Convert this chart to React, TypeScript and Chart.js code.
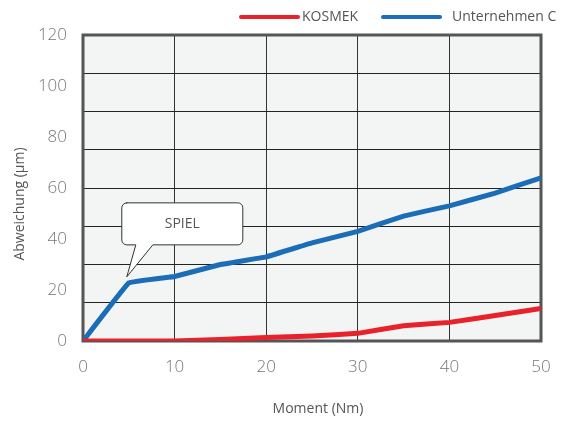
import React, { useEffect, useRef } from "react";
import { Chart, registerables } from "chart.js";

Chart.register(...registerables);

const moments = [0, 5, 10, 15, 20, 25, 30, 35, 40, 45, 50];
const kosmek = [0, 0, 0, 0.6, 1.4, 2, 3, 6, 7.3, 10, 12.8];
const companyC = [0, 22.8, 25.3, 30, 33, 38.5, 43, 49, 53, 58, 64];
const seriesNames = ["KOSMEK", "Unternehmen C"];
const seriesColors = ["#e8212b", "#1a6db6"];
const xTicks = [0, 10, 20, 30, 40, 50];
const yLabelStep = 20;
const yGridStep = 15;
const xTitle = "Moment (Nm)";
const yTitle = "Abweichung (µm)";
const calloutText = "SPIEL";
const calloutIndex = 1;

const FONT = "'Open Sans', 'Noto Sans', sans-serif";

const decorPlugin = {
  id: "decor",
  beforeDraw(chart: any) {
    const { ctx, chartArea: a } = chart;
    ctx.save();
    ctx.fillStyle = "#f3f4f4";
    ctx.fillRect(a.left, a.top, a.right - a.left, a.bottom - a.top);
    ctx.restore();
  },
  beforeDatasetsDraw(chart: any) {
    const { ctx, chartArea: a } = chart;
    ctx.save();
    ctx.strokeStyle = "#555";
    ctx.lineWidth = 3;
    ctx.strokeRect(a.left, a.top, a.right - a.left, a.bottom - a.top);
    ctx.restore();
  },
  afterDraw(chart: any) {
    const { ctx, scales } = chart;
    ctx.save();
    ctx.fillStyle = "#555";
    ctx.font = `14px ${FONT}`;
    ctx.textAlign = "center";
    ctx.textBaseline = "middle";
    ctx.fillText(xTitle, 318, 409);
    ctx.save();
    ctx.translate(20, 204);
    ctx.rotate(-Math.PI / 2);
    ctx.fillText(yTitle, 0, 0);
    ctx.restore();

    const ds = chart.data.datasets;
    const items = [
      { x1: 241, x2: 298, tx: 302 },
      { x1: 383, x2: 440, tx: 452 },
    ];
    ds.forEach((d: any, i: number) => {
      const it = items[i];
      ctx.strokeStyle = d.borderColor;
      ctx.lineWidth = 4;
      ctx.lineCap = "round";
      ctx.beginPath();
      ctx.moveTo(it.x1, 17);
      ctx.lineTo(it.x2, 17);
      ctx.stroke();
      ctx.fillStyle = "#555";
      ctx.textAlign = "left";
      ctx.fillText(d.label, it.tx, 17);
    });

    const px = scales.x.getPixelForValue(moments[calloutIndex]) - 2;
    const py = scales.y.getPixelForValue(companyC[calloutIndex]) - 6;
    const bx = px - 5, by = py - 74, bw = 121, bh = 42, r = 5;
    ctx.beginPath();
    ctx.moveTo(bx + r, by);
    ctx.lineTo(bx + bw - r, by);
    ctx.arcTo(bx + bw, by, bx + bw, by + r, r);
    ctx.lineTo(bx + bw, by + bh - r);
    ctx.arcTo(bx + bw, by + bh, bx + bw - r, by + bh, r);
    ctx.lineTo(bx + 31, by + bh);
    ctx.lineTo(px, py);
    ctx.lineTo(bx + 14, by + bh);
    ctx.lineTo(bx + r, by + bh);
    ctx.arcTo(bx, by + bh, bx, by + bh - r, r);
    ctx.lineTo(bx, by + r);
    ctx.arcTo(bx, by, bx + r, by, r);
    ctx.closePath();
    ctx.fillStyle = "#ffffff";
    ctx.fill();
    ctx.strokeStyle = "#333";
    ctx.lineWidth = 1;
    ctx.stroke();
    ctx.fillStyle = "#555";
    ctx.textAlign = "center";
    ctx.fillText(calloutText, bx + bw / 2, by + bh / 2);
    ctx.restore();
  },
};

export default function App() {
  const ref = useRef<HTMLCanvasElement>(null);
  useEffect(() => {
    if (!ref.current) return;
    const yTickValues: number[] = [];
    for (let v = 0; v <= 120; v += 5) {
      if (v % yLabelStep === 0 || v % yGridStep === 0) yTickValues.push(v);
    }
    const chart = new Chart(ref.current, {
      type: "line",
      data: {
        datasets: [
          {
            label: seriesNames[0],
            data: moments.map((m, i) => ({ x: m, y: kosmek[i] })),
            borderColor: seriesColors[0],
            borderWidth: 5,
            pointRadius: 0,
            tension: 0.05,
          },
          {
            label: seriesNames[1],
            data: moments.map((m, i) => ({ x: m, y: companyC[i] })),
            borderColor: seriesColors[1],
            borderWidth: 5,
            pointRadius: 0,
            tension: 0.05,
          },
        ],
      },
      options: {
        animation: false,
        responsive: false,
        layout: { padding: { left: 0, right: 22, top: 35, bottom: 0 } },
        plugins: { legend: { display: false }, tooltip: { enabled: false } },
        scales: {
          x: {
            type: "linear",
            min: 0,
            max: 50,
            afterBuildTicks: (s: any) => {
              s.ticks = xTicks.map((v) => ({ value: v }));
            },
            afterFit: (s: any) => {
              s.height = 84;
              s.paddingLeft = 0;
              s.paddingRight = 0;
            },
            ticks: {
              padding: 16,
              color: "#777",
              font: { family: FONT, size: 17, weight: "300" },
              maxRotation: 0,
            },
            grid: { color: "#333", lineWidth: 1, drawTicks: false },
            border: { display: false },
          },
          y: {
            type: "linear",
            min: 0,
            max: 120,
            afterBuildTicks: (s: any) => {
              s.ticks = yTickValues.map((v) => ({ value: v }));
            },
            afterFit: (s: any) => {
              s.width = 83;
              s.paddingTop = 0;
              s.paddingBottom = 0;
            },
            ticks: {
              padding: 16,
              color: "#777",
              font: { family: FONT, size: 17, weight: "300" },
              autoSkip: false,
              callback: (v: any) => (Number(v) % yLabelStep === 0 ? String(v) : ""),
            },
            grid: {
              drawTicks: false,
              color: (c: any) =>
                c.tick && c.tick.value % yGridStep === 0 ? "#222" : "rgba(0,0,0,0)",
              lineWidth: 1,
            },
            border: { display: false },
          },
        },
      },
      plugins: [decorPlugin],
    } as any);
    return () => chart.destroy();
  }, []);
  return (
    <div style={{ position: "fixed", left: 0, top: 0, width: 563, height: 425, background: "#fff" }}>
      <canvas ref={ref} width={563} height={425} style={{ width: 563, height: 425, display: "block" }} />
    </div>
  );
}
